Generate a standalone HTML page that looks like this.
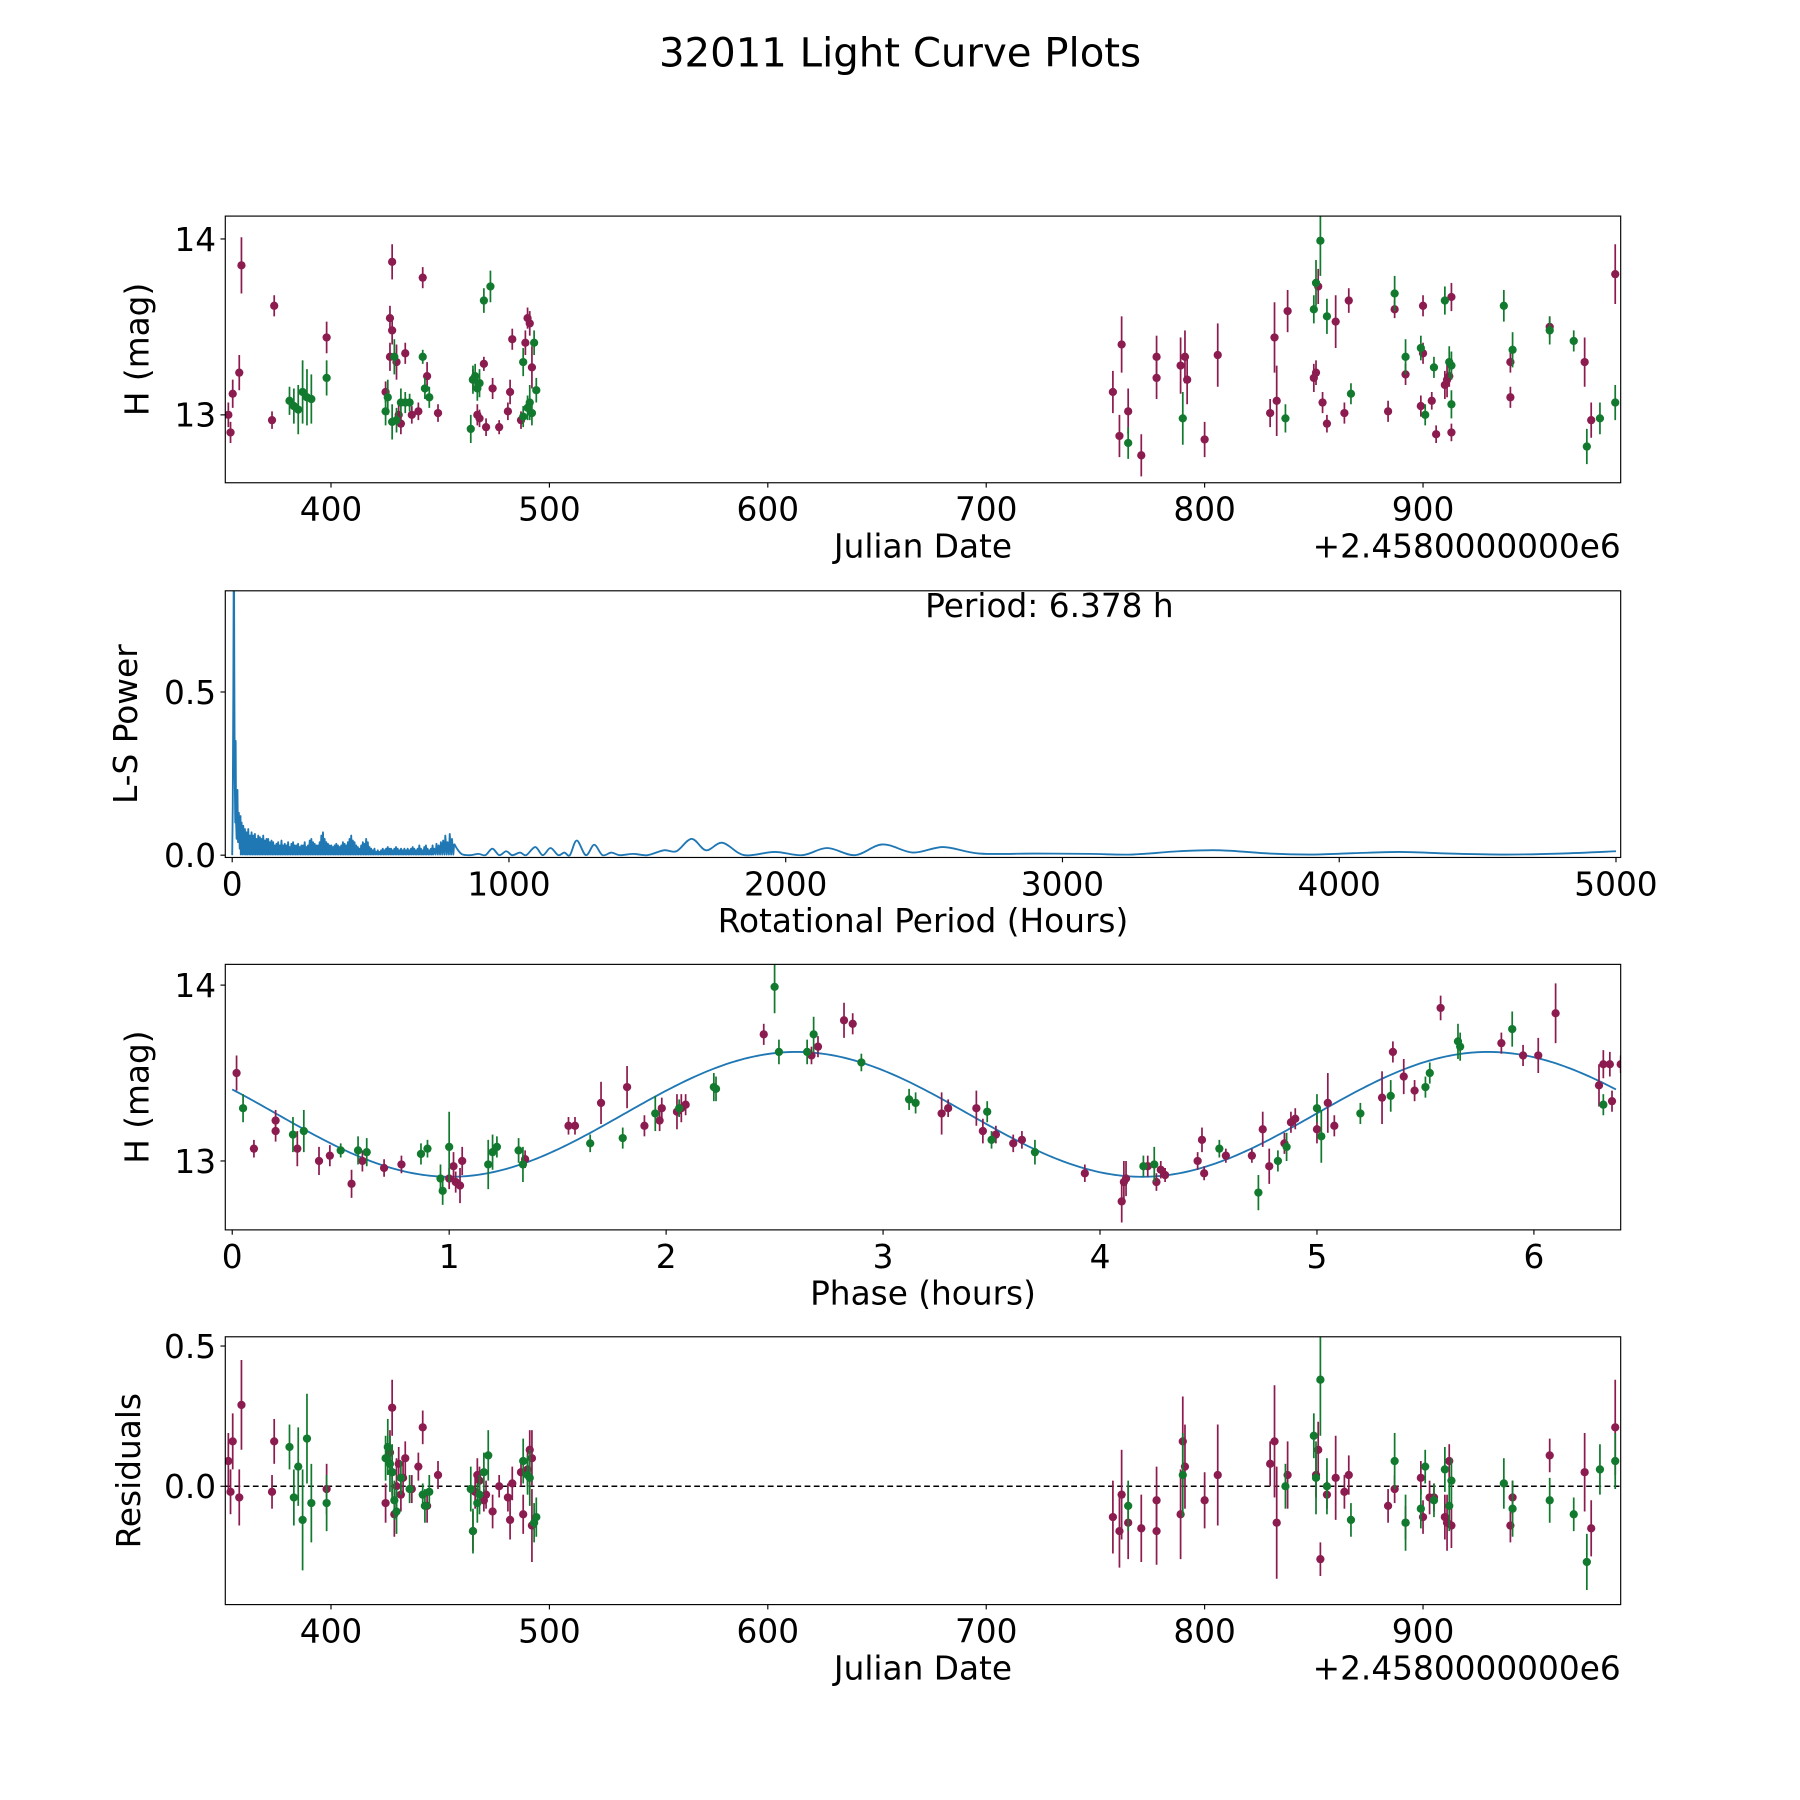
<!DOCTYPE html>
<html><head><meta charset="utf-8">
<style>
html,body{margin:0;padding:0;background:#fff;}
svg{display:block;font-family:"DejaVu Sans","Liberation Sans",sans-serif;}
</style></head>
<body>
<svg id="fig" width="1800" height="1800" viewBox="0 0 1566 1566" xmlns="http://www.w3.org/2000/svg">
<rect width="1566" height="1566" fill="#fff"/>
<text x="783" y="58" font-size="35" text-anchor="middle">32011 Light Curve Plots</text>
<g id="g1"></g>
<g id="g2"></g>
<g id="g3"></g>
<g id="g4"></g>
</svg>
<script>
// ---- data ----
const lcRed = [[353,13.0,.07],[354,12.9,.06],[355,13.12,.08],[358,13.24,.1],[359,13.85,.16],[373,12.97,.05],[374,13.62,.06],[398,13.44,.09],[425,13.13,.06],[427,13.55,.07],[428,13.48,.08],[428,13.87,.1],[427,13.33,.08],[430,13.3,.1],[431,13.0,.06],[432,12.95,.06],[434,13.35,.06],[437,13.0,.05],[440,13.02,.05],[442,13.78,.06],[444,13.22,.08],[449,13.01,.05],[465,13.2,.06],[467,13.0,.06],[468,12.98,.05],[470,13.29,.04],[471,12.93,.05],[474,13.15,.06],[477,12.93,.04],[481,13.02,.05],[482,13.13,.07],[483,13.43,.06],[487,12.97,.05],[489,13.41,.07],[490,13.55,.06],[491,13.52,.07],[492,13.27,.12],[758,13.13,.12],[761,12.88,.12],[762,13.4,.16],[765,13.02,.13],[771,12.77,.12],[778,13.33,.12],[778,13.21,.12],[789,13.28,.16],[791,13.33,.15],[792,13.2,.14],[800,12.86,.1],[806,13.34,.18],[830,13.01,.08],[832,13.44,.2],[833,13.08,.2],[838,13.59,.12],[850,13.21,.08],[851,13.24,.07],[852,13.73,.1],[854,13.07,.06],[856,12.95,.05],[860,13.53,.15],[864,13.01,.06],[866,13.65,.07],[884,13.02,.06],[887,13.6,.05],[892,13.23,.06],[899,13.05,.06],[900,13.35,.06],[900,13.62,.06],[904,13.08,.05],[906,12.89,.05],[910,13.17,.08],[911,13.2,.1],[912,13.22,.06],[913,13.67,.08],[913,12.9,.05],[940,13.1,.06],[940,13.3,.06],[958,13.5,.06],[974,13.3,.14],[977,12.97,.1],[988,13.8,.17]];
const lcGreen = [[381,13.08,.08],[383,13.05,.1],[385,13.03,.14],[387,13.13,.18],[389,13.1,.16],[391,13.09,.14],[398,13.21,.1],[425,13.02,.08],[426,13.1,.1],[428,12.96,.1],[429,13.33,.1],[430,12.97,.07],[432,13.07,.08],[434,13.07,.06],[436,13.07,.05],[442,13.33,.04],[443,13.15,.06],[445,13.1,.06],[464,12.92,.08],[465,13.2,.08],[466,13.22,.07],[467,13.15,.07],[468,13.18,.08],[470,13.65,.07],[473,13.73,.09],[488,13.3,.08],[490,13.04,.07],[491,13.07,.1],[492,13.01,.07],[493,13.41,.07],[494,13.14,.07],[488,12.99,.06],[765,12.84,.09],[790,12.98,.15],[837,12.98,.08],[850,13.6,.08],[851,13.75,.13],[853,13.99,.2],[856,13.56,.1],[867,13.12,.06],[887,13.69,.1],[892,13.33,.1],[899,13.38,.07],[901,13.0,.06],[905,13.27,.06],[910,13.65,.08],[912,13.3,.09],[913,13.28,.08],[913,13.06,.08],[937,13.62,.09],[941,13.37,.1],[958,13.48,.08],[969,13.42,.06],[975,12.82,.1],[981,12.98,.09],[988,13.07,.1]];
const resRed = [[353,.09,.1],[354,-.02,.08],[355,.16,.1],[358,-.04,.1],[359,.29,.16],[373,-.02,.06],[374,.16,.08],[398,-.01,.09],[425,-.06,.07],[427,.12,.08],[428,.28,.1],[428,.05,.08],[429,-.1,.08],[430,0,.1],[431,.08,.06],[432,-.03,.06],[433,.03,.06],[434,.1,.06],[437,-.01,.05],[440,.07,.05],[442,.21,.06],[444,-.07,.06],[449,.04,.05],[465,-.16,.07],[466,-.02,.06],[467,.04,.06],[468,.02,.05],[470,-.05,.04],[471,-.03,.05],[474,-.09,.06],[477,0,.04],[481,-.04,.05],[482,-.12,.07],[483,.01,.06],[487,.05,.05],[488,-.1,.07],[490,.06,.06],[491,.13,.07],[492,.1,.1],[492,-.14,.13],[758,-.11,.13],[761,-.16,.13],[762,-.03,.16],[765,-.13,.13],[771,-.15,.12],[778,-.05,.12],[778,-.16,.12],[789,-.1,.16],[790,.16,.16],[791,.07,.15],[800,-.05,.1],[806,.04,.18],[830,.08,.08],[832,.16,.2],[833,-.13,.2],[838,.04,.12],[851,.04,.08],[852,.13,.1],[853,-.26,.06],[856,-.03,.05],[860,.03,.15],[864,-.02,.06],[866,.04,.07],[884,-.07,.06],[887,-.01,.05],[892,-.13,.06],[899,.03,.06],[900,-.11,.06],[903,-.04,.06],[905,-.04,.05],[910,-.11,.08],[911,-.13,.1],[912,.09,.06],[913,-.14,.08],[940,-.14,.06],[941,-.04,.06],[958,.11,.06],[974,.05,.14],[977,-.15,.1],[988,.21,.17]];
const resGreen = [[381,.14,.08],[383,-.04,.1],[385,.07,.14],[387,-.12,.18],[389,.17,.16],[391,-.06,.14],[398,-.06,.1],[425,.1,.08],[426,.14,.1],[427,.08,.1],[428,.05,.1],[429,-.05,.07],[430,-.09,.08],[432,.03,.06],[436,-.01,.05],[442,-.03,.04],[443,-.07,.06],[445,-.02,.06],[464,-.01,.08],[465,-.16,.08],[467,-.06,.07],[468,-.03,.07],[470,.05,.07],[472,.11,.09],[488,.09,.08],[490,.04,.07],[491,.03,.1],[493,-.13,.07],[494,-.11,.07],[765,-.07,.09],[790,.04,.15],[837,0,.08],[850,.18,.08],[851,.03,.13],[853,.38,.2],[856,0,.1],[867,-.12,.06],[887,.09,.1],[892,-.13,.1],[899,-.08,.07],[901,.07,.06],[905,-.05,.06],[910,.06,.08],[912,-.07,.09],[913,.02,.08],[937,.01,.09],[941,-.08,.1],[958,-.05,.08],[969,-.1,.06],[975,-.27,.1],[981,.06,.09],[988,.09,.1]];
const phRed = [[.02,13.5,.1],[.1,13.07,.05],[.2,13.23,.06],[.2,13.17,.06],[.3,13.07,.1],[.4,13.0,.08],[.45,13.03,.06],[.55,12.87,.08],[.6,13.0,.06],[.7,12.96,.05],[.78,12.98,.05],[1.0,12.9,.06],[1.03,12.88,.06],[1.05,12.86,.1],[1.02,12.97,.08],[1.06,13.0,.08],[1.35,13.01,.05],[1.55,13.2,.05],[1.58,13.2,.05],[1.7,13.33,.12],[1.82,13.42,.12],[1.9,13.2,.06],[1.97,13.23,.06],[1.98,13.3,.06],[2.05,13.28,.1],[2.07,13.3,.08],[2.09,13.32,.06],[2.45,13.72,.06],[2.67,13.6,.05],[2.7,13.65,.06],[2.82,13.8,.1],[2.86,13.78,.06],[3.27,13.27,.12],[3.3,13.3,.05],[3.43,13.3,.1],[3.46,13.17,.07],[3.52,13.15,.05],[3.6,13.1,.05],[3.64,13.12,.05],[3.93,12.93,.05],[4.1,12.77,.12],[4.11,12.88,.12],[4.12,12.9,.1],[4.22,12.97,.06],[4.26,12.88,.05],[4.28,12.95,.05],[4.3,12.92,.04],[4.45,13.0,.05],[4.47,13.12,.07],[4.48,12.93,.04],[4.58,13.03,.04],[4.7,13.03,.04],[4.75,13.18,.1],[4.78,12.97,.1],[4.85,13.1,.06],[4.88,13.22,.06],[4.9,13.24,.06],[5.0,13.18,.08],[5.05,13.33,.17],[5.08,13.2,.06],[5.3,13.36,.15],[5.35,13.62,.06],[5.4,13.48,.1],[5.45,13.4,.06],[5.57,13.87,.07],[5.85,13.67,.06],[5.95,13.6,.06],[6.02,13.6,.1],[6.1,13.84,.17],[6.3,13.43,.12],[6.32,13.55,.08],[6.35,13.55,.07],[6.36,13.34,.06],[6.4,13.55,.05]];
const phGreen = [[.05,13.3,.08],[.28,13.15,.1],[.33,13.17,.12],[.5,13.06,.04],[.58,13.06,.08],[.62,13.05,.08],[.87,13.04,.06],[.9,13.07,.05],[.96,12.9,.08],[.97,12.83,.08],[1.0,13.08,.2],[1.18,12.98,.14],[1.2,13.05,.1],[1.22,13.08,.06],[1.32,13.06,.07],[1.34,12.98,.1],[1.65,13.1,.05],[1.8,13.13,.06],[1.95,13.27,.1],[2.06,13.3,.05],[2.22,13.42,.08],[2.23,13.41,.07],[2.5,13.99,.15],[2.52,13.62,.07],[2.65,13.62,.07],[2.68,13.72,.1],[2.9,13.56,.05],[3.12,13.35,.06],[3.15,13.33,.06],[3.48,13.28,.06],[3.5,13.12,.05],[3.7,13.05,.07],[4.2,12.97,.06],[4.25,12.98,.1],[4.55,13.07,.05],[4.73,12.82,.1],[4.82,13.0,.06],[4.86,13.08,.08],[5.0,13.3,.08],[5.02,13.14,.15],[5.2,13.27,.06],[5.34,13.37,.09],[5.5,13.42,.06],[5.52,13.5,.06],[5.65,13.68,.1],[5.66,13.65,.08],[5.9,13.75,.1],[6.32,13.32,.06]];
const fitMean = [13.265];
const fitAmp = [0.355];
const fitPeak = [2.6];
const fitHalfPeriod = [3.189];
// periodogram: sharp low-period part [period, power]
const lsPeak = [[0,0],[2,0.15],[4,0.5],[5.5,0.9],[6.4,0.95],[7.5,0.6],[9,0.25],[11,0.1],[12.5,0.35],[14,0.1],[16,0.05],[19,0.2],[21,0.04],[24,0.13],[27,0.02],[30,0.12]];
// dense noisy part: spike heights at given periods (valleys drawn between)
const lsSpikeP = [34,40,46,52,58,64,70,76,82,88,94,100,106,112,118,124,130,136,142,148,154,160,166,172,178,184,190,196,202,208,214,220,226,232,238,244,250,256,262,268,274,280,286,292,298,304,310,316,322,328,334,340,346,352,358,364,370,376,382,388,394,400,406,412,418,424,430,436,442,448,454,460,466,472,478,484,490,496,502,508,514,520,526,532,538,544,550,556,562,568,574,580,586,592,598,604,610,616,622,628,634,640,646,652,658,664,670,676,682,688,694,700,706,712,718,724,730,738,746,754,762,770,778,786,794,802];
const lsSpikeV = [0.1,0.09,0.08,0.07,0.08,0.06,0.07,0.06,0.065,0.05,0.06,0.055,0.05,0.06,0.045,0.05,0.05,0.04,0.045,0.04,0.03,0.035,0.04,0.03,0.045,0.03,0.035,0.03,0.04,0.025,0.035,0.04,0.03,0.03,0.035,0.025,0.03,0.03,0.04,0.025,0.03,0.045,0.05,0.04,0.035,0.03,0.03,0.04,0.06,0.07,0.05,0.04,0.035,0.03,0.03,0.025,0.03,0.035,0.03,0.025,0.03,0.04,0.035,0.03,0.04,0.05,0.06,0.045,0.04,0.03,0.025,0.02,0.03,0.04,0.035,0.05,0.04,0.025,0.02,0.015,0.02,0.01,0.015,0.01,0.015,0.02,0.015,0.02,0.025,0.02,0.02,0.015,0.02,0.025,0.02,0.015,0.02,0.015,0.02,0.015,0.02,0.015,0.02,0.025,0.02,0.015,0.02,0.03,0.02,0.015,0.025,0.03,0.02,0.015,0.02,0.03,0.02,0.035,0.03,0.04,0.045,0.06,0.04,0.065,0.05,0.035];
// smooth long-period part [period, power]
const lsSmooth = [[812,0.02],[830,0.003],[860,0.0],[890,0.004],[915,0.0],[940,0.02],[965,0.0],[990,0.012],[1012,0.0],[1040,0.008],[1062,0.0],[1095,0.025],[1122,0.0],[1150,0.022],[1178,0.0],[1200,0.008],[1220,0.0],[1245,0.045],[1278,0.0],[1308,0.032],[1338,0.0],[1370,0.008],[1400,0.0],[1450,0.004],[1500,0.0],[1560,0.015],[1605,0.012],[1660,0.05],[1712,0.015],[1772,0.038],[1850,0.0],[1960,0.01],[2060,0.0],[2150,0.022],[2250,0.0],[2350,0.033],[2460,0.008],[2570,0.025],[2700,0.005],[2900,0.005],[3100,0.004],[3250,0.002],[3420,0.012],[3570,0.015],[3750,0.005],[3900,0.002],[4050,0.006],[4220,0.01],[4400,0.005],[4600,0.002],[4800,0.005],[5000,0.012]];

// ---- helpers ----
const NS='http://www.w3.org/2000/svg';
function mk(parent,tag,attrs){const e=document.createElementNS(NS,tag);for(const k in attrs)e.setAttribute(k,attrs[k]);parent.appendChild(e);return e;}
const RED='#8c1c4f', GREEN='#127a2e', BLUE='#1f77b4';
const FS=28.5;
function axesFrame(g,L,T,R,B,xt,yt,sx,sy,xlabel,ylabel,ylx,offset,yfmt){
  for(const v of xt){const x=sx(v);
    const t=mk(g,'line',{x1:x,x2:x,y1:B,y2:B+4.2,stroke:'#000','stroke-width':1});
    
    
    const l=mk(g,'text',{x:x,y:B+33,'font-size':FS,'text-anchor':'middle'});l.textContent=String(v);
    
    }
  for(const v of yt){const y=sy(v);
    const t=mk(g,'line',{x1:L-4.2,x2:L,y1:y,y2:y,stroke:'#000','stroke-width':1});
    
    
    const l=mk(g,'text',{x:L-8,y:y+10.3,'font-size':FS,'text-anchor':'end'});l.textContent=yfmt?v.toFixed(1):String(v);
    
    }
  const xl=mk(g,'text',{x:(L+R)/2,y:B+65,'font-size':FS,'text-anchor':'middle'});xl.textContent=xlabel;
  
  
  const cy=(T+B)/2;
  const yl=mk(g,'text',{x:ylx,y:cy,'font-size':FS,'text-anchor':'middle',transform:`rotate(-90 ${ylx} ${cy})`});yl.textContent=ylabel;
  
  
  if(offset){const o=mk(g,'text',{x:R,y:B+65,'font-size':FS,'text-anchor':'end'});o.textContent=offset;
    
    }
}
function border(g,L,T,R,B){const r=mk(g,'rect',{x:L,y:T,width:R-L,height:B-T,fill:'none',stroke:'#000','stroke-width':1});
  
  }
function clip(id,L,T,R,B){const d=mk(document.getElementById('fig'),'clipPath',{id:id});mk(d,'rect',{x:L,y:T,width:R-L,height:B-T});}
function errPts(g,pts,color,sx,sy){
  for(const p of pts){const x=sx(p[0]);
    const l=mk(g,'line',{x1:x,x2:x,y1:sy(p[1]-p[2]),y2:sy(p[1]+p[2]),stroke:color,'stroke-width':1.5});
    
    
    const c=mk(g,'circle',{cx:x,cy:sy(p[1]),r:3.6,fill:color});
    
    }
}
const L=196,R=1410;
// ---- panel 1 ----
(function(){const g=document.getElementById('g1');const T=188,B=420;
  const sx=v=>L+(v-351.6)*(R-L)/(990.5-351.6), sy=v=>T+(14.13-v)*(B-T)/(14.13-12.614);
  clip('c1',L,T,R,B);const d=mk(g,'g',{'clip-path':'url(#c1)'});
  errPts(d,lcRed,RED,sx,sy);errPts(d,lcGreen,GREEN,sx,sy);
  border(g,L,T,R,B);
  axesFrame(g,L,T,R,B,[400,500,600,700,800,900],[13,14],sx,sy,'Julian Date','H (mag)',129,'+2.4580000000e6',false);})();
// ---- panel 2 ----
(function(){const g=document.getElementById('g2');const T=514,B=746;
  const sx=v=>L+(v+25)*(R-L)/(5017+25), sy=v=>T+(0.81-v)*(B-T)/(0.81+0.007);
  clip('c2',L,T,R,B);const d=mk(g,'g',{'clip-path':'url(#c2)'});
  let pts=lsPeak.map(p=>[sx(p[0]),sy(p[1])]);
  for(let i=0;i<lsSpikeP.length;i++){
    pts.push([sx(lsSpikeP[i]-3),sy(0.002)]);
    pts.push([sx(lsSpikeP[i]),sy(lsSpikeV[i])]);
  }
  const pl=mk(d,'polyline',{points:pts.map(p=>p[0].toFixed(2)+','+p[1].toFixed(2)).join(' '),fill:'none',stroke:BLUE,'stroke-width':1.6,'stroke-linejoin':'round'});
  
  
  const sp=lsSmooth.map(p=>[sx(p[0]),sy(p[1])]);
  let dstr='M'+sp[0][0]+','+sp[0][1];
  for(let i=0;i<sp.length-1;i++){const p0=sp[Math.max(0,i-1)],p1=sp[i],p2=sp[i+1],p3=sp[Math.min(sp.length-1,i+2)];
    const c1x=p1[0]+(p2[0]-p0[0])/6,c1y=p1[1]+(p2[1]-p0[1])/6,c2x=p2[0]-(p3[0]-p1[0])/6,c2y=p2[1]-(p3[1]-p1[1])/6;
    dstr+=` C${c1x.toFixed(2)},${c1y.toFixed(2)} ${c2x.toFixed(2)},${c2y.toFixed(2)} ${p2[0].toFixed(2)},${p2[1].toFixed(2)}`;}
  const last=pts[pts.length-1];
  const jn=mk(d,'line',{x1:last[0],y1:last[1],x2:sp[0][0],y2:sp[0][1],stroke:BLUE,'stroke-width':1.6});
  
  
  const ps=mk(d,'path',{d:dstr,fill:'none',stroke:BLUE,'stroke-width':1.6});
  
  
  border(g,L,T,R,B);
  axesFrame(g,L,T,R,B,[0,1000,2000,3000,4000,5000],[0,0.5],sx,sy,'Rotational Period (Hours)','L-S Power',119,null,true);
  const a=mk(g,'text',{x:913,y:537,'font-size':FS,'text-anchor':'middle'});a.textContent='Period: 6.378 h';
  
  })();
// ---- panel 3 ----
(function(){const g=document.getElementById('g3');const T=839,B=1070;
  const sx=v=>L+(v+0.032)*(R-L)/(6.40+0.032), sy=v=>T+(14.118-v)*(B-T)/(14.118-12.608);
  clip('c3',L,T,R,B);const d=mk(g,'g',{'clip-path':'url(#c3)'});
  let pts=[];for(let i=0;i<=400;i++){const p=6.378*i/400;const m=fitMean[0]+fitAmp[0]*Math.cos(2*Math.PI*(p-fitPeak[0])/fitHalfPeriod[0]);pts.push(sx(p).toFixed(2)+','+sy(m).toFixed(2));}
  const pl=mk(d,'polyline',{points:pts.join(' '),fill:'none',stroke:BLUE,'stroke-width':1.6});
  
  
  errPts(d,phRed,RED,sx,sy);errPts(d,phGreen,GREEN,sx,sy);
  border(g,L,T,R,B);
  axesFrame(g,L,T,R,B,[0,1,2,3,4,5,6],[13,14],sx,sy,'Phase (hours)','H (mag)',129,null,false);})();
// ---- panel 4 ----
(function(){const g=document.getElementById('g4');const T=1163,B=1396;
  const sx=v=>L+(v-351.6)*(R-L)/(990.5-351.6), sy=v=>T+(0.533-v)*(B-T)/(0.533+0.422);
  clip('c4',L,T,R,B);const d=mk(g,'g',{'clip-path':'url(#c4)'});
  const z=mk(d,'line',{x1:L,x2:R,y1:sy(0),y2:sy(0),stroke:'#000','stroke-width':1.4,'stroke-dasharray':'5,3'});
  
  
  errPts(d,resRed,RED,sx,sy);errPts(d,resGreen,GREEN,sx,sy);
  border(g,L,T,R,B);
  axesFrame(g,L,T,R,B,[400,500,600,700,800,900],[0,0.5],sx,sy,'Julian Date','Residuals',122,'+2.4580000000e6',true);})();
</script>
</body></html>
